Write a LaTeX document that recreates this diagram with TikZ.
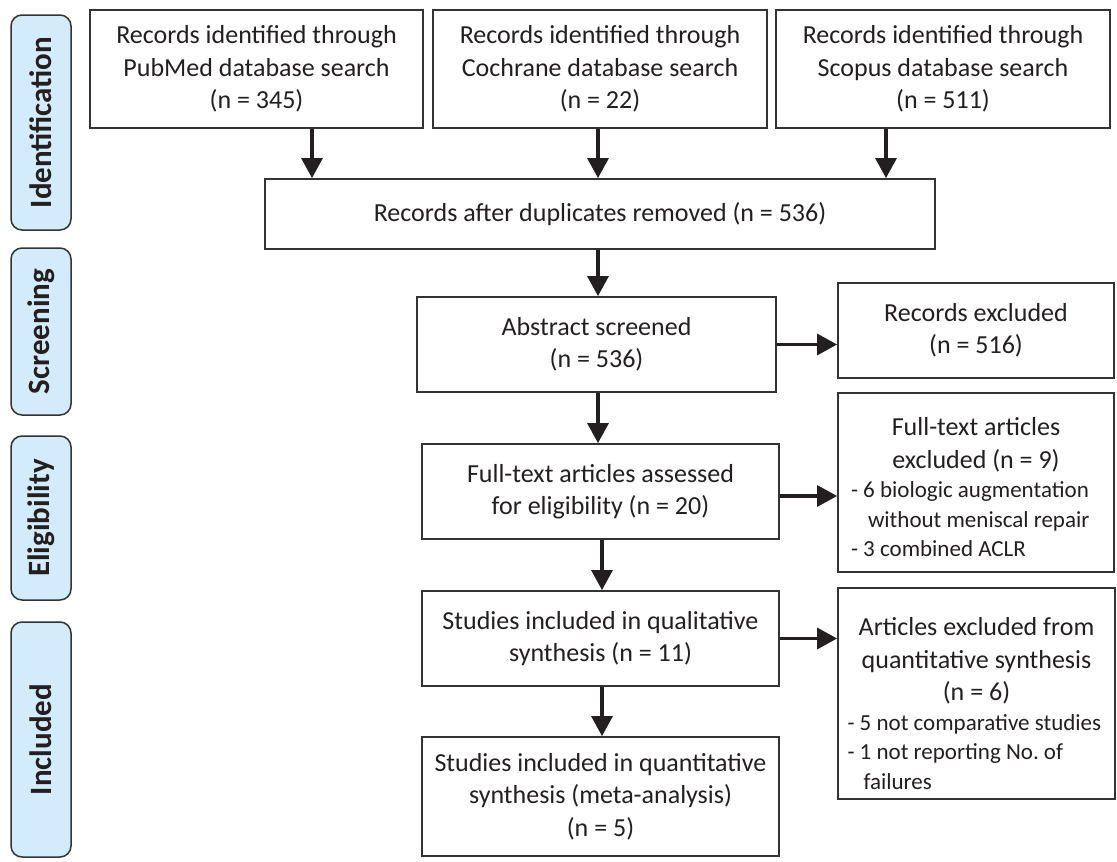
\documentclass[tikz,border=0pt]{standalone}
\usepackage{fontspec}
\setmainfont{Carlito}
\usetikzlibrary{arrows.meta}
\definecolor{txt}{HTML}{231F20}
\definecolor{edge}{HTML}{333333}
\definecolor{barfill}{HTML}{D3EBFA}
\newcommand{\hdr}[1]{\makebox[\linewidth][c]{#1}}
\begin{document}
\begin{tikzpicture}[x=1pt,y=-1pt,
  box/.style={draw=edge, line width=1.8pt, align=center, text=txt,
    font=\fontsize{26}{32.5}\selectfont, inner sep=0pt},
  frame/.style={draw=edge, line width=1.8pt, inner sep=0pt},
  notetext/.style={text=txt, align=flush left, inner sep=0pt,
    font=\fontsize{26}{32.5}\selectfont},
  bar/.style={draw=edge, line width=1.5pt, fill=barfill, rounded corners=11pt,
    rotate=90, minimum height=60pt, inner sep=0pt, text=txt,
    font=\bfseries\fontsize{31}{36}\selectfont},
  arr/.style={draw=txt, line width=3.2pt, -{Triangle[length=20pt,width=21pt]}}]
\useasboundingbox (0,0) rectangle (1117,862);

% phase bars
\node[bar, minimum width=215pt] (bid) at (41,122.5) {Identification};
\node[bar, minimum width=167pt] (bsc) at (41,331.5) {Screening};
\node[bar, minimum width=164pt] (bel) at (41,518) {Eligibility};
\node[bar, minimum width=235pt] (bin) at (41,739.5) {Included};

% boxes
\node[box, minimum width=333pt, minimum height=118pt] (pub) at (256.5,69)
  {Records identified through\\PubMed database search\\(n = 345)};
\node[box, minimum width=334pt, minimum height=118pt] (coc) at (600,69)
  {Records identified through\\Cochrane database search\\(n = 22)};
\node[box, minimum width=334pt, minimum height=118pt] (sco) at (943,69)
  {Records identified through\\Scopus database search\\(n = 511)};
\node[box, minimum width=670pt, minimum height=70pt] (dup) at (600,214)
  {Records after duplicates removed (n = 536)};
\node[box, minimum width=359pt, minimum height=95pt] (abs) at (596.5,344.5)
  {Abstract screened\\(n = 536)};
\node[box, minimum width=276pt, minimum height=95pt] (rex) at (976,330.5)
  {Records excluded\\(n = 516)};
\node[box, minimum width=357pt, minimum height=95pt] (fta) at (600.5,491.5)
  {Full-text articles assessed\\for eligibility (n = 20)};
\node[frame, minimum width=276pt, minimum height=179pt] (fex) at (976,482.5) {};
\node[notetext, text width=250pt] (fext) at ([yshift=-5pt]fex.center)
  {\hdr{Full-text articles}\\\hdr{excluded (n = 9)}\par
   {\fontsize{23}{29.5}\selectfont - 6 biologic augmentation\\
   \hspace*{17pt}without meniscal repair\\- 3 combined ACLR\par}};
\node[box, minimum width=357pt, minimum height=95pt] (qual) at (600.5,638.5)
  {Studies included in qualitative\\synthesis (n = 11)};
\node[frame, minimum width=277pt, minimum height=211pt] (aex) at (976.5,693.5) {};
\node[notetext, text width=258pt] (aext) at ([yshift=-10pt]aex.center)
  {\hdr{Articles excluded from}\\\hdr{quantitative synthesis}\\\hdr{(n = 6)}\par
   {\fontsize{23}{29.5}\selectfont - 5 not comparative studies\\
   - 1 not reporting No.\ of\\\hspace*{16pt}failures\par}};
\node[box, minimum width=357pt, minimum height=119pt] (meta) at (600.5,796.5)
  {Studies included in quantitative\\synthesis (meta-analysis)\\(n = 5)};

% arrows
\draw[arr] ([xshift=55.5pt]pub.south) -- ([xshift=55.5pt]pub.south |- dup.north);
\draw[arr] ([xshift=-2pt]coc.south) -- ([xshift=-2pt]coc.south |- dup.north);
\draw[arr] ([xshift=-57pt]sco.south) -- ([xshift=-57pt]sco.south |- dup.north);
\draw[arr] ([xshift=-2pt]dup.south) -- ([xshift=-2pt]dup.south |- abs.north);
\draw[arr] ([xshift=1.5pt]abs.south) -- ([xshift=1.5pt]abs.south |- fta.north);
\draw[arr] ([xshift=1.5pt]fta.south) -- ([xshift=1.5pt]fta.south |- qual.north);
\draw[arr] ([xshift=1.5pt]qual.south) -- ([xshift=1.5pt]qual.south |- meta.north);
\draw[arr] (abs.east) -- (abs.east -| rex.west);
\draw[arr] ([yshift=-4.5pt]fta.east) -- ([yshift=-4.5pt]fta.east -| fex.west);
\draw[arr] (qual.east) -- (qual.east -| aex.west);
\end{tikzpicture}
\end{document}
